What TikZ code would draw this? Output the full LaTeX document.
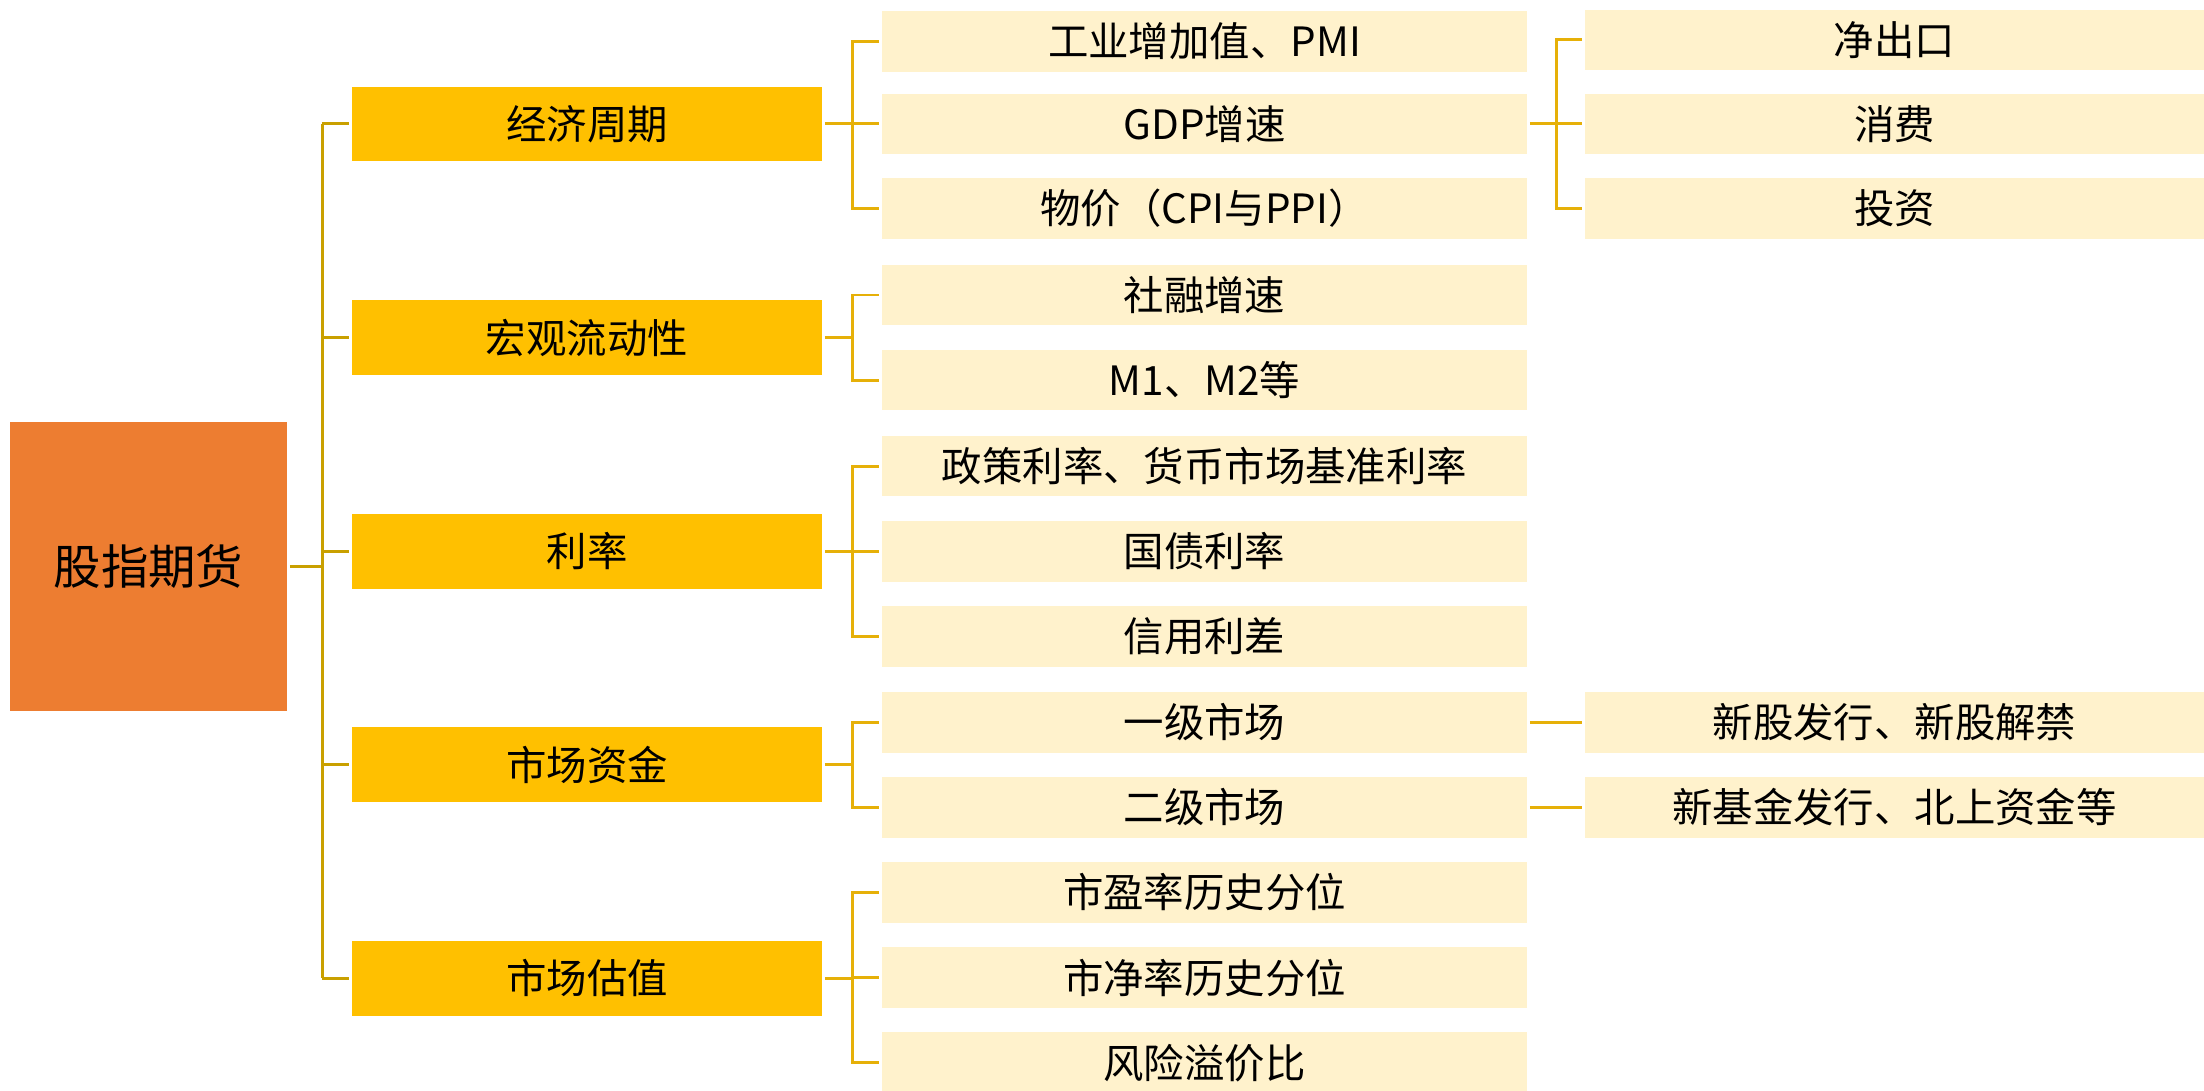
\documentclass[tikz,border=0pt]{standalone}
\usepackage{fontspec}
\setmainfont{Noto Sans CJK SC}
\usepackage{tikz}

\definecolor{rootorange}{HTML}{ED7D31}
\definecolor{midgold}{HTML}{FFC000}
\definecolor{leafcream}{HTML}{FFF2CC}
\definecolor{trunkgold}{RGB}{201,160,0}
\definecolor{branchgold}{RGB}{230,176,8}

\begin{document}
\begin{tikzpicture}[x=0.02cm, y=-0.02cm,
    every node/.style={inner sep=0pt, outer sep=0.06cm, font=\fontsize{23}{26}\selectfont},
    rootbox/.style={fill=rootorange, minimum width=5.54cm, minimum height=5.78cm, font=\fontsize{27}{30}\selectfont},
    factorbox/.style={fill=midgold, minimum width=9.4cm, minimum height=1.5cm},
    itembox/.style={fill=leafcream, minimum width=12.9cm, minimum height=1.22cm},
    detailbox/.style={fill=leafcream, minimum width=12.38cm, minimum height=1.22cm},
    trunkline/.style={draw=trunkgold, line width=0.06cm},
    branchline/.style={draw=branchgold, line width=0.06cm}]
    \useasboundingbox (0,0) rectangle (2204,1091);

    % root and first level
    \node[rootbox] (root) at (148.5,566.5) {股指期货};
    \node[factorbox] (eco) at (587,124) {经济周期};
    \node[factorbox] (liq) at (587,337.6) {宏观流动性};
    \node[factorbox] (rate) at (587,551.2) {利率};
    \node[factorbox] (fund) at (587,764.8) {市场资金};
    \node[factorbox] (val) at (587,978.4) {市场估值};

    % second level
    \node[itembox] (eco1) at (1204.5,41.5) {工业增加值、PMI};
    \node[itembox] (eco2) at (1204.5,124) {GDP增速};
    \node[itembox] (eco3) at (1204.5,208.5) {物价（CPI与PPI）};
    \node[itembox] (liq1) at (1204.5,295) {社融增速};
    \node[itembox] (liq2) at (1204.5,380) {M1、M2等};
    \node[itembox] (rate1) at (1204.5,466) {政策利率、货币市场基准利率};
    \node[itembox] (rate2) at (1204.5,551.5) {国债利率};
    \node[itembox] (rate3) at (1204.5,636.5) {信用利差};
    \node[itembox] (fund1) at (1204.5,722.3) {一级市场};
    \node[itembox] (fund2) at (1204.5,807.4) {二级市场};
    \node[itembox] (val1) at (1204.5,892.5) {市盈率历史分位};
    \node[itembox] (val2) at (1204.5,977.6) {市净率历史分位};
    \node[itembox] (val3) at (1204.5,1062.7) {风险溢价比};

    % third level
    \node[detailbox] (gdp1) at (1894.5,40) {净出口};
    \node[detailbox] (gdp2) at (1894.5,124) {消费};
    \node[detailbox] (gdp3) at (1894.5,208.5) {投资};
    \node[detailbox] (ipo) at (1894.5,722.3) {新股发行、新股解禁};
    \node[detailbox] (flow) at (1894.5,807.4) {新基金发行、北上资金等};

    \coordinate (mainbar) at (322,0);
    \coordinate (bar2) at (852,0);
    \coordinate (bar3) at (1556,0);

    % trunk
    \draw[trunkline] (root.east) -- (root.east -| mainbar);
    \draw[trunkline] (eco.west -| mainbar) -- (val.west -| mainbar);
    \draw[trunkline] (eco.west -| mainbar) -- (eco.west);
    \draw[trunkline] (liq.west -| mainbar) -- (liq.west);
    \draw[trunkline] (rate.west -| mainbar) -- (rate.west);
    \draw[trunkline] (fund.west -| mainbar) -- (fund.west);
    \draw[trunkline] (val.west -| mainbar) -- (val.west);

    % brackets to second level
    \draw[branchline] (eco.east) -- (eco.east -| bar2);
    \draw[branchline] (eco1.west) -| (bar2 |- eco3.west) -- (eco3.west);
    \draw[branchline] (eco2.west -| bar2) -- (eco2.west);
    \draw[branchline] (liq.east) -- (liq.east -| bar2);
    \draw[branchline] (liq1.west) -| (bar2 |- liq2.west) -- (liq2.west);
    \draw[branchline] (rate.east) -- (rate.east -| bar2);
    \draw[branchline] (rate1.west) -| (bar2 |- rate3.west) -- (rate3.west);
    \draw[branchline] (rate2.west -| bar2) -- (rate2.west);
    \draw[branchline] (fund.east) -- (fund.east -| bar2);
    \draw[branchline] (fund1.west) -| (bar2 |- fund2.west) -- (fund2.west);
    \draw[branchline] (val.east) -- (val.east -| bar2);
    \draw[branchline] (val1.west) -| (bar2 |- val3.west) -- (val3.west);
    \draw[branchline] (val2.west -| bar2) -- (val2.west);

    % third level links
    \draw[branchline] (eco2.east) -- (eco2.east -| bar3);
    \draw[branchline] (gdp1.west) -| (bar3 |- gdp3.west) -- (gdp3.west);
    \draw[branchline] (gdp2.west -| bar3) -- (gdp2.west);
    \draw[branchline] (fund1.east) -- (ipo.west);
    \draw[branchline] (fund2.east) -- (flow.west);
\end{tikzpicture}
\end{document}
